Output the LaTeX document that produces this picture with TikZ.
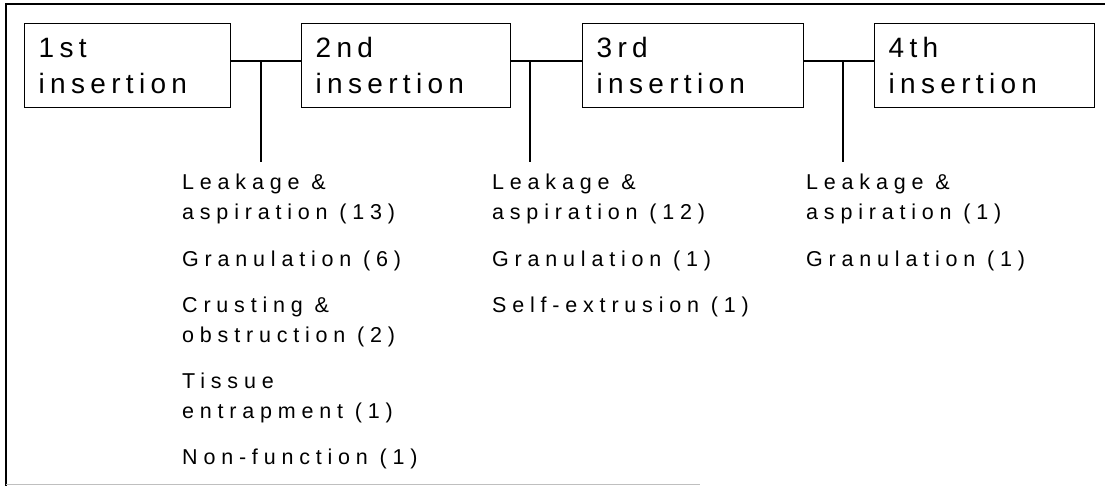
\documentclass[tikz,border=0pt]{standalone}
\usepackage{fontspec}
\newfontfamily\boxfont[LetterSpace=19]{Liberation Sans}
\newfontfamily\listfont[LetterSpace=27]{Liberation Sans}
\tikzset{
  insbox/.style={draw, line width=1.4pt, anchor=north west, minimum height=84pt,
    inner xsep=14pt, inner ysep=0pt, align=left,
    font=\boxfont\fontsize{28}{36}\selectfont},
  item/.style={anchor=base west, inner sep=0pt, font=\listfont\fontsize{21.5}{25}\selectfont},
  link/.style={line width=1.4pt},
}
\begin{document}
\begin{tikzpicture}[x=1pt,y=-1pt]
\useasboundingbox (0,0) rectangle (1105,486);
% frame
\draw[line width=1.4pt] (6,486) -- (6,4) -- (1105,4);
\draw[line width=1pt, black!25] (6,484) -- (700,484);
% boxes
\node[insbox, minimum width=206pt, text width=178pt] (b1) at (24,23) {1st\\insertion};
\node[insbox, minimum width=209pt, text width=181pt] (b2) at (301,23) {2nd\\insertion};
\node[insbox, minimum width=221pt, text width=193pt] (b3) at (582,23) {3rd\\insertion};
\node[insbox, minimum width=220pt, text width=192pt] (b4) at (874,23) {4th\\insertion};
% junctions
\coordinate (j1) at (261,61); \coordinate (e1) at (261,162);
\coordinate (j2) at (530,61); \coordinate (e2) at (530,162);
\coordinate (j3) at (843,61); \coordinate (e3) at (843,162);
\draw[link] (b1.east |- j1) -- (b2.west |- j1);
\draw[link] (b2.east |- j2) -- (b3.west |- j2);
\draw[link] (b3.east |- j3) -- (b4.west |- j3);
\draw[link] (j1) -- (e1);
\draw[link] (j2) -- (e2);
\draw[link] (j3) -- (e3);
% column 1
\node[item] (a1) at (182,190) {Leakage \&};
\node[item] (a2) at (182,220) {aspiration (13)};
\node[item] (a3) at (182,266) {Granulation (6)};
\node[item] (a4) at (182,312) {Crusting \&};
\node[item] (a5) at (182,342) {obstruction (2)};
\node[item] (a6) at (182,388) {Tissue};
\node[item] (a7) at (182,418) {entrapment (1)};
\node[item] (a8) at (182,464) {Non-function (1)};
% column 2
\node[item] (c1) at (492,190) {Leakage \&};
\node[item] (c2) at (492,220) {aspiration (12)};
\node[item] (c3) at (492,266) {Granulation (1)};
\node[item] (c4) at (492,312) {Self-extrusion (1)};
% column 3
\node[item] (d1) at (806,190) {Leakage \&};
\node[item] (d2) at (806,220) {aspiration (1)};
\node[item] (d3) at (806,266) {Granulation (1)};
\end{tikzpicture}
\end{document}
